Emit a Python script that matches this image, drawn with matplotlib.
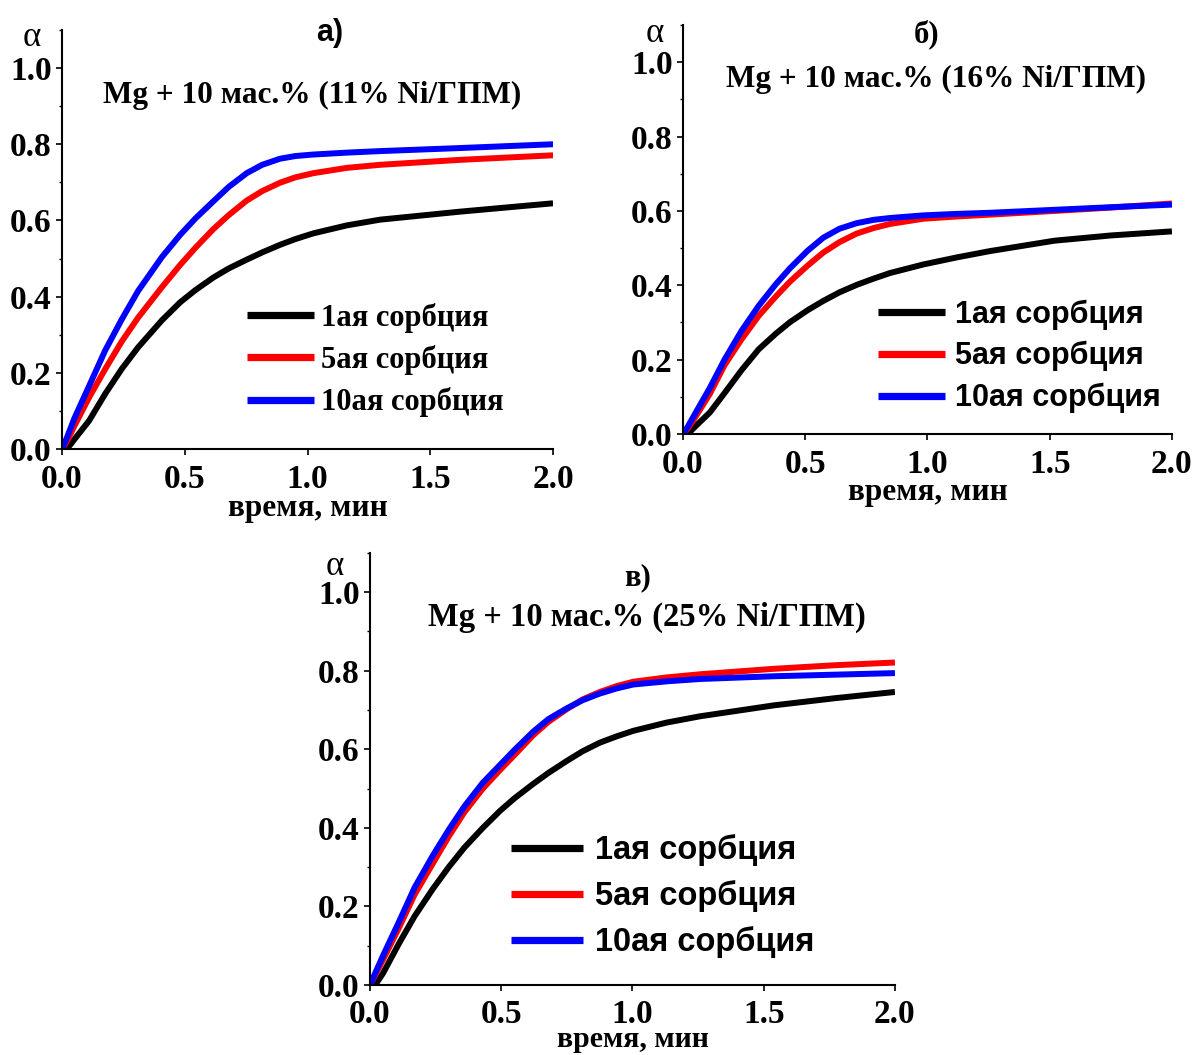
import matplotlib
matplotlib.use("Agg")
import matplotlib.pyplot as plt
from matplotlib.ticker import MultipleLocator, FormatStrFormatter

SERIF = ["Liberation Serif", "DejaVu Serif"]
SANS = ["Liberation Sans", "DejaVu Sans"]

labels = ["1ая сорбция", "5ая сорбция", "10ая сорбция"]
colors = ["#000000", "#ff0000", "#0000ff"]

# --- а) Mg + 10 мас.% (11% Ni/ГПМ)
time_a = [0, 0.02, 0.05, 0.11, 0.176, 0.243, 0.31, 0.407, 0.481, 0.543, 0.616,
          0.679, 0.752, 0.815, 0.888, 0.95, 1.023, 1.16, 1.295, 1.62, 2.0]
a_s1 = [0, 0, 0.025, 0.074, 0.145, 0.21, 0.267, 0.338, 0.385, 0.417, 0.45,
        0.474, 0.497, 0.516, 0.536, 0.551, 0.566, 0.587, 0.602, 0.623, 0.645]
a_s5 = [0, 0.02, 0.06, 0.135, 0.21, 0.282, 0.345, 0.425, 0.483, 0.528, 0.577,
        0.614, 0.652, 0.677, 0.699, 0.713, 0.724, 0.738, 0.746, 0.759, 0.771]
a_s10 = [0, 0.03, 0.08, 0.165, 0.259, 0.34, 0.415, 0.504, 0.562, 0.605, 0.65,
         0.688, 0.724, 0.746, 0.762, 0.769, 0.773, 0.778, 0.782, 0.79, 0.80]

# --- б) Mg + 10 мас.% (16% Ni/ГПМ)
time_b = [0, 0.02, 0.05, 0.11, 0.17, 0.24, 0.31, 0.38, 0.438, 0.51, 0.574,
          0.64, 0.71, 0.78, 0.847, 0.983, 1.12, 1.256, 1.52, 1.75, 2.0]
b_s1 = [0, 0, 0.02, 0.058, 0.11, 0.172, 0.228, 0.27, 0.301, 0.333, 0.358,
        0.381, 0.401, 0.418, 0.433, 0.456, 0.475, 0.492, 0.52, 0.534, 0.545]
b_s5 = [0, 0.015, 0.045, 0.108, 0.185, 0.255, 0.318, 0.37, 0.41, 0.453, 0.488,
        0.516, 0.539, 0.554, 0.565, 0.579, 0.585, 0.59, 0.60, 0.609, 0.62]
b_s10 = [0, 0.02, 0.055, 0.124, 0.2, 0.278, 0.345, 0.403, 0.446, 0.493, 0.528,
         0.552, 0.567, 0.576, 0.581, 0.588, 0.592, 0.595, 0.603, 0.61, 0.617]

# --- в) Mg + 10 мас.% (25% Ni/ГПМ)
time_c = [0, 0.02, 0.05, 0.11, 0.17, 0.24, 0.30, 0.36, 0.43, 0.495, 0.55, 0.622,
          0.68, 0.749, 0.81, 0.876, 0.94, 1.003, 1.13, 1.257, 1.54, 1.77, 2.0]
c_s1 = [0, 0, 0.03, 0.105, 0.175, 0.245, 0.30, 0.35, 0.40, 0.443, 0.475, 0.512,
        0.54, 0.57, 0.595, 0.617, 0.633, 0.647, 0.668, 0.684, 0.712, 0.73, 0.746]
c_s5 = [0, 0.025, 0.065, 0.145, 0.23, 0.31, 0.378, 0.44, 0.50, 0.547, 0.585, 0.636,
        0.67, 0.702, 0.727, 0.746, 0.761, 0.772, 0.783, 0.791, 0.805, 0.814, 0.821]
c_s10 = [0, 0.03, 0.075, 0.16, 0.248, 0.33, 0.395, 0.455, 0.515, 0.56, 0.598, 0.645,
         0.677, 0.704, 0.725, 0.742, 0.755, 0.765, 0.773, 0.779, 0.786, 0.79, 0.794]

panels = [
    dict(rect=[0.0519, 0.5744, 0.4109, 0.3972], t=time_a, ys=[a_s1, a_s5, a_s10],
         letter="а)", letter_font=SANS, letter_xy=(0.546, 0.993),
         title="Mg + 10 мас.% (11% Ni/ГПМ)", title_xy=(0.509, 0.843), title_size=22.5,
         alpha_xy=(-0.061, 0.983), xlabel_pad=-1, xlabel_size=22.5, xtick_pad=6.5,
         leg_font=SERIF, leg_size=22, leg_pad=0.23, leg_space=0.40,
         leg_xy=(0.377, 0.212)),
    dict(rect=[0.5715, 0.5886, 0.4092, 0.3877], t=time_b, ys=[b_s1, b_s5, b_s10],
         letter="б)", letter_font=SERIF, letter_xy=(0.499, 0.976),
         title="Mg + 10 мас.% (16% Ni/ГПМ)", title_xy=(0.517, 0.868), title_size=22.5,
         alpha_xy=(-0.057, 0.98), xlabel_pad=-1.5, xlabel_size=22.5, xtick_pad=6.5,
         leg_font=SANS, leg_size=22, leg_pad=0.33, leg_space=0.38,
         leg_xy=(0.399, 0.19)),
    dict(rect=[0.3096, 0.0664, 0.4393, 0.4095], t=time_c, ys=[c_s1, c_s5, c_s10],
         letter="в)", letter_font=SERIF, letter_xy=(0.509, 0.942),
         title="Mg + 10 мас.% (25% Ni/ГПМ)", title_xy=(0.528, 0.85), title_size=23.5,
         alpha_xy=(-0.067, 0.968), xlabel_pad=-2.5, xlabel_size=21.5, xtick_pad=5.5,
         leg_font=SANS, leg_size=23.5, leg_pad=0.37, leg_space=0.43,
         leg_xy=(0.269, 0.205)),
]

fig = plt.figure(figsize=(11.95, 10.55), dpi=100)

for p in panels:
    ax = fig.add_axes(p["rect"])
    for y, c, lab in zip(p["ys"], colors, labels):
        ax.plot(p["t"], y, color=c, lw=4.3, label=lab,
                solid_capstyle="butt", solid_joinstyle="round")
    ax.set_xlim(0, 2.0)
    ax.set_ylim(0, 1.1)
    ax.spines["top"].set_visible(False)
    ax.spines["right"].set_visible(False)
    for s in ("left", "bottom"):
        ax.spines[s].set_linewidth(1.5)
    ax.xaxis.set_major_locator(MultipleLocator(0.5))
    ax.set_yticks([0, 0.2, 0.4, 0.6, 0.8, 1.0])
    ax.yaxis.set_minor_locator(MultipleLocator(0.1))
    ax.yaxis.set_major_formatter(FormatStrFormatter("%.1f"))
    ax.xaxis.set_major_formatter(FormatStrFormatter("%.1f"))
    ax.tick_params(which="major", direction="out", length=4.5, width=1.2)
    ax.tick_params(which="minor", direction="out", length=2.5, width=1.0)
    ax.tick_params(axis="y", pad=3)
    ax.tick_params(axis="x", pad=p["xtick_pad"])
    for tl in ax.get_xticklabels() + ax.get_yticklabels():
        tl.set_fontfamily(SERIF)
        tl.set_fontweight("bold")
        tl.set_fontsize(24)
    ax.set_xlabel("время, мин", family=SERIF, weight="bold",
                  fontsize=p["xlabel_size"], labelpad=p["xlabel_pad"])
    ax.text(*p["alpha_xy"], "α", transform=ax.transAxes, family=SERIF,
            fontsize=25, ha="center", va="center")
    ax.text(*p["letter_xy"], p["letter"], transform=ax.transAxes,
            family=p["letter_font"], weight="bold", fontsize=22,
            ha="center", va="center")
    ax.text(*p["title_xy"], p["title"], transform=ax.transAxes,
            family=SERIF, weight="bold", fontsize=p["title_size"],
            ha="center", va="center")
    leg = ax.legend(loc="center left", bbox_to_anchor=p["leg_xy"],
                    frameon=False, handlelength=2.2,
                    handletextpad=p["leg_pad"], labelspacing=p["leg_space"],
                    borderpad=0, borderaxespad=0,
                    prop=dict(family=p["leg_font"], weight="bold",
                              size=p["leg_size"]))
    for h in leg.get_lines():
        h.set_linewidth(5.2)

fig.savefig("out.png", dpi=100)
